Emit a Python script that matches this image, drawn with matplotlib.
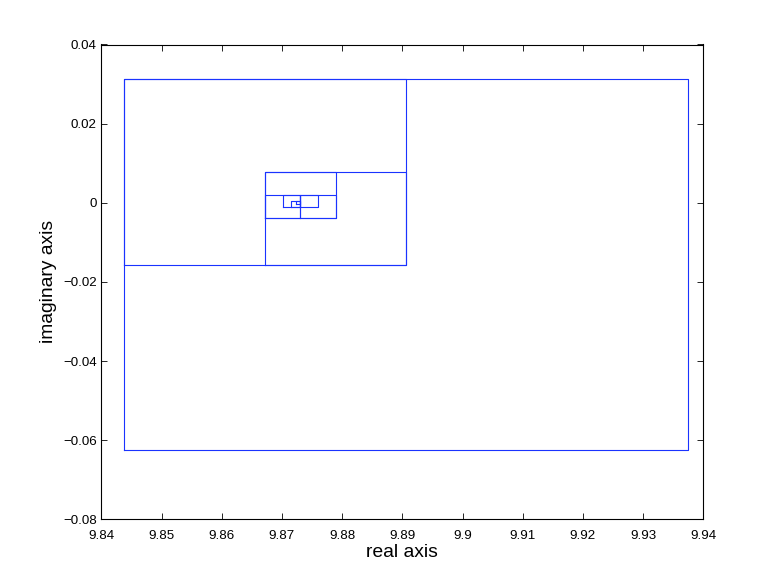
import matplotlib
matplotlib.use('Agg')
import matplotlib.pyplot as plt
from matplotlib.ticker import FuncFormatter

# rectangles of the search (left, right, bottom, top)
rect_x0 = [9.84375, 9.84375, 9.8671875, 9.8671875, 9.8671875, 9.873046875,
           9.8701171875, 9.873046875, 9.87158203125, 9.872314453125]
rect_x1 = [9.9375, 9.890625, 9.890625, 9.87890625, 9.873046875, 9.87890625,
           9.873046875, 9.8759765625, 9.873046875, 9.873046875]
rect_y0 = [-0.0625, -0.015625, -0.015625, -0.00390625, -0.00390625, -0.00390625,
           -0.0009765625, -0.0009765625, -0.0009765625, -0.000244140625]
rect_y1 = [0.03125, 0.03125, 0.0078125, 0.0078125, 0.001953125, 0.001953125,
           0.001953125, 0.001953125, 0.00048828125, 0.00048828125]

x_ticks = [9.84, 9.85, 9.86, 9.87, 9.88, 9.89, 9.9, 9.91, 9.92, 9.93, 9.94]
y_ticks = [-0.08, -0.06, -0.04, -0.02, 0, 0.02, 0.04]


def fmt(v, pos):
    s = '%g' % round(v, 6)
    return s.replace('-', '\u2212')


plt.rcParams['font.family'] = ['Liberation Sans', 'DejaVu Sans']

fig = plt.figure(figsize=(7.78, 5.84), dpi=100)
ax = fig.add_axes([101.3 / 778, (584 - 519.3) / 584, 602 / 778, (519.3 - 44.5) / 584])

for x0, x1, y0, y1 in zip(rect_x0, rect_x1, rect_y0, rect_y1):
    ax.plot([x0, x1, x1, x0, x0], [y0, y0, y1, y1, y0], color='#1a33ff', lw=0.8)

ax.set_xlim(9.84, 9.94)
ax.set_ylim(-0.08, 0.04)
ax.set_xticks(x_ticks)
ax.set_yticks(y_ticks)
ax.xaxis.set_major_formatter(FuncFormatter(fmt))
ax.yaxis.set_major_formatter(FuncFormatter(fmt))
ax.tick_params(direction='in', top=True, right=True, length=4, width=0.6,
               labelsize=9.6, pad=3.3)
ax.tick_params(axis='x', pad=8)
for sp in ax.spines.values():
    sp.set_linewidth(0.8)

ax.set_xlabel('real axis', fontsize=13.9, labelpad=1)
ax.set_ylabel('imaginary axis', fontsize=13.9, labelpad=4)

fig.savefig('out.png', dpi=100)
